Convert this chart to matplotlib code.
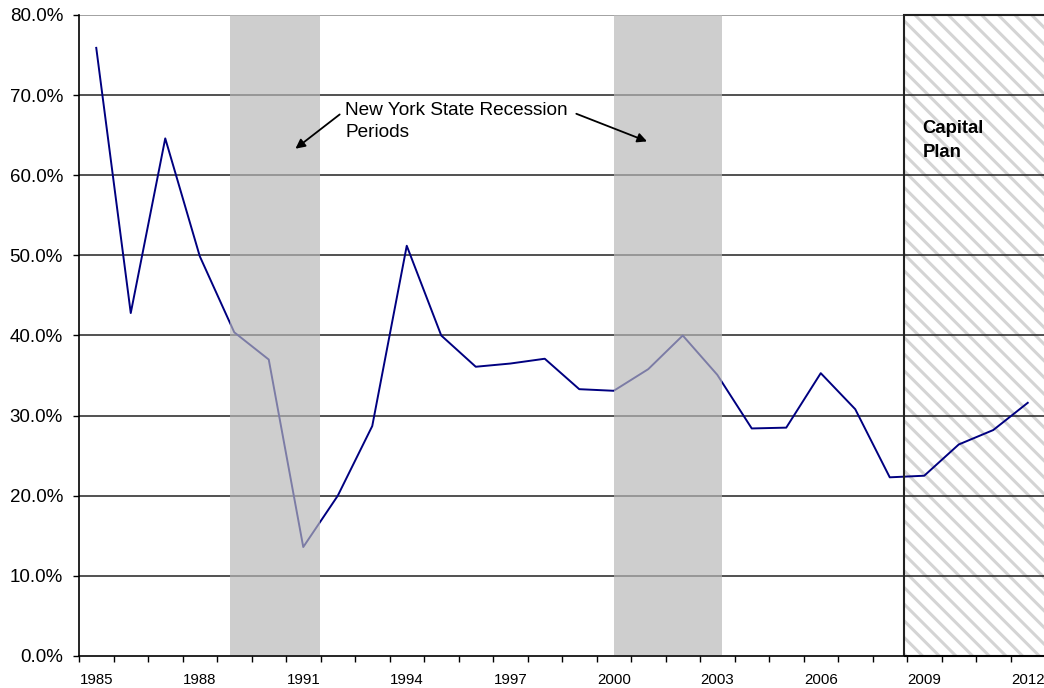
import matplotlib
matplotlib.use("Agg")
import matplotlib.pyplot as plt
from matplotlib.patches import Rectangle
import numpy as np

plt.rcParams['font.family'] = ['Liberation Sans', 'DejaVu Sans']
plt.rcParams['hatch.linewidth'] = 2.2

years = list(range(1985, 2013))
ratio = [75.9, 42.8, 64.6, 49.9, 40.4, 37.0, 13.6, 20.0, 28.7, 51.2,
         40.0, 36.1, 36.5, 37.1, 33.3, 33.1, 35.8, 40.0, 35.1, 28.4,
         28.5, 35.3, 30.8, 22.3, 22.5, 26.4, 28.2, 31.6]
recessions = [(1988.88, 1991.49), (2000.0, 2003.13)]
capital_plan_start = 2008.41
year_labels = [1985, 1988, 1991, 1994, 1997, 2000, 2003, 2006, 2009, 2012]

fig = plt.figure(figsize=(10.44, 6.88), dpi=100)
ax = fig.add_axes([79 / 1044, 32 / 688, 966 / 1044, 641 / 688])

x0 = years[0]
x = np.array(years) - x0
x_min, x_max = -0.5, len(years) - 0.5
y_min, y_max = 0, 80

# Capital plan window: hatched fill plus black outline
cp0 = capital_plan_start - x0
ax.add_patch(Rectangle((cp0, y_min), x_max - cp0, y_max - y_min,
                       facecolor='white', edgecolor='#d4d4d4', hatch='\\\\',
                       linewidth=0, zorder=0.5))
ax.add_patch(Rectangle((cp0, y_min), x_max - cp0, y_max - y_min,
                       fill=False, edgecolor='#222222', linewidth=1.5,
                       zorder=2.5, clip_on=False))

# horizontal gridlines
for v in range(10, 81, 10):
    ax.axhline(v, color='#222222' if v < 80 else '#888888', linewidth=1.1, zorder=1)

ax.plot(x, ratio, color='#000080', linewidth=1.4, zorder=2)

# Recession bands drawn over the series
for a, b in recessions:
    ax.add_patch(Rectangle((a - x0, y_min + 0.1), b - a, y_max - y_min - 0.1,
                           facecolor='#b8b8b8', linewidth=0, alpha=0.68, zorder=3))

ax.set_xlim(x_min, x_max)
ax.set_ylim(y_min, y_max)

ax.set_yticks(range(0, 81, 10))
ax.set_yticklabels([f'{v:.1f}%' for v in range(0, 81, 10)], fontsize=13.5)
ax.tick_params(axis='y', direction='out', length=4.5, width=1, pad=7, color='black')

ax.set_xticks(np.arange(x_min, x_max + 0.01, 1.0))
ax.set_xticklabels([])
ax.tick_params(axis='x', which='major', direction='out', length=4, width=1, color='black')
ax.set_xticks([y - x0 for y in year_labels], minor=True)
ax.set_xticklabels([str(y) for y in year_labels], minor=True, fontsize=10.8)
ax.tick_params(axis='x', which='minor', length=0, pad=12)

for s in ['top', 'right']:
    ax.spines[s].set_visible(False)
for s in ['left', 'bottom']:
    ax.spines[s].set_color('black')
    ax.spines[s].set_linewidth(1.2)
    ax.spines[s].set_zorder(4)

# Annotation for the recession bands
ax.text(1992.22 - x0, 67.5, 'New York State Recession', fontsize=13.7,
        ha='left', va='baseline', zorder=5)
ax.text(1992.22 - x0, 64.75, 'Periods', fontsize=13.7,
        ha='left', va='baseline', zorder=5)
arrow_kw = dict(arrowstyle='-|>', color='black', lw=1.3, mutation_scale=14)
ax.annotate('', xy=(1990.71 - x0, 63.1), xytext=(1992.12 - x0, 67.8),
            arrowprops=arrow_kw, zorder=5)
ax.annotate('', xy=(2001.04 - x0, 64.1), xytext=(1998.84 - x0, 67.8),
            arrowprops=arrow_kw, zorder=5)

ax.text(cp0 + 0.54, 65.3, 'Capital', fontsize=13.3, fontweight='bold',
        ha='left', va='baseline', zorder=5)
ax.text(cp0 + 0.54, 62.3, 'Plan', fontsize=13.3, fontweight='bold',
        ha='left', va='baseline', zorder=5)

fig.savefig('out.png', dpi=100)
